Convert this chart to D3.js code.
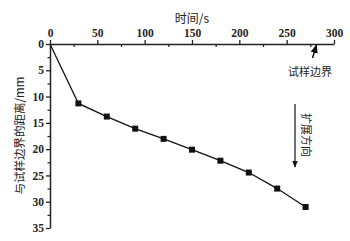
<!DOCTYPE html>
<html>
<head>
<meta charset="utf-8">
<script src="https://cdn.jsdelivr.net/npm/d3@7"></script>
<style>
  body { margin: 0; background: #fff; }
  svg { display: block; }
</style>
</head>
<body>
<script>
// data: time (s) vs distance from sample edge (mm)
var times = [0, 30, 60, 90, 120, 150, 180, 210, 240, 270];
var distances = [0, 11.3, 13.8, 16.1, 18.05, 20.1, 22.2, 24.45, 27.5, 31.0];
var xTicks = [0, 50, 100, 150, 200, 250, 300];
var yTicks = [0, 5, 10, 15, 20, 25, 30, 35];

var width = 350, height = 241;
// plot edges (don't call these top/left: window.top is taken)
var plotLeft = 50, plotRight = 334, plotTop = 44, plotBottom = 228;
var cjkFont = '"Noto Sans CJK SC", sans-serif';

var svg = d3.select('body').append('svg')
  .attr('width', width)
  .attr('height', height);

var defs = svg.append('defs');
defs.append('marker')
  .attr('id', 'head')
  .attr('viewBox', '0 0 10 10')
  .attr('refX', 9).attr('refY', 5)
  .attr('markerWidth', 6).attr('markerHeight', 6)
  .attr('orient', 'auto')
  .append('path')
  .attr('d', 'M0,1 L10,5 L0,9 Z')
  .attr('fill', '#111');

var x = d3.scaleLinear().domain([0, 300]).range([plotLeft, plotRight]);
var y = d3.scaleLinear().domain([0, 35]).range([plotTop, plotBottom]);

// minor ticks first
svg.append('g')
  .attr('transform', 'translate(0,' + plotTop + ')')
  .call(d3.axisBottom(x).tickValues(d3.range(25, 300, 50)).tickSize(3).tickFormat(''))
  .call(function (g) { g.select('.domain').remove(); g.selectAll('line').attr('stroke', '#222').attr('stroke-width', 1.2); });

svg.append('g')
  .attr('transform', 'translate(' + plotLeft + ',0)')
  .call(d3.axisLeft(y).tickValues(d3.range(2.5, 35, 5)).tickSize(2.5).tickFormat(''))
  .call(function (g) { g.select('.domain').remove(); g.selectAll('line').attr('stroke', '#222').attr('stroke-width', 1.2); });

// main axes
var xAxis = svg.append('g')
  .attr('transform', 'translate(0,' + plotTop + ')')
  .call(d3.axisTop(x).tickValues(xTicks).tickSize(4).tickSizeOuter(0).tickPadding(3));

var yAxis = svg.append('g')
  .attr('transform', 'translate(' + plotLeft + ',0)')
  .call(d3.axisLeft(y).tickValues(yTicks).tickSize(4).tickSizeOuter(0).tickPadding(2));

[xAxis, yAxis].forEach(function (g) {
  g.attr('font-family', '"Liberation Serif", serif').attr('font-size', 11.5).attr('font-weight', 'bold');
  g.select('.domain').attr('stroke', '#222').attr('stroke-width', 1.5);
  g.selectAll('.tick line').attr('stroke', '#222').attr('stroke-width', 1.3);
  g.selectAll('.tick text').attr('fill', '#222');
});

// axis titles
svg.append('text')
  .attr('x', 192)
  .attr('y', 23)
  .attr('text-anchor', 'middle')
  .attr('font-family', cjkFont)
  .attr('font-size', 12)
  .attr('fill', '#222')
  .text('时间/s');

svg.append('text')
  .attr('transform', 'translate(24,135.5) rotate(-90)')
  .attr('text-anchor', 'middle')
  .attr('font-family', cjkFont)
  .attr('font-size', 11.5)
  .attr('fill', '#222')
  .text('与试样边界的距离/mm');

// the line and markers
var pts = times.map(function (t, i) { return [t, distances[i]]; });

svg.append('path')
  .datum(pts)
  .attr('fill', 'none')
  .attr('stroke', '#111')
  .attr('stroke-width', 1.3)
  .attr('d', d3.line().x(function (d) { return x(d[0]); }).y(function (d) { return y(d[1]); }));

svg.selectAll('rect.pt')
  .data(pts.slice(1))
  .enter()
  .append('rect')
  .attr('class', 'pt')
  .attr('x', function (d) { return x(d[0]) - 3; })
  .attr('y', function (d) { return y(d[1]) - 3; })
  .attr('width', 6)
  .attr('height', 6)
  .attr('fill', '#111');

// annotation: sample edge
svg.append('line')
  .attr('x1', 312.5).attr('y1', 58)
  .attr('x2', 316.5).attr('y2', 45)
  .attr('stroke', '#111').attr('stroke-width', 1.5)
  .attr('marker-end', 'url(#head)');

svg.append('text')
  .attr('x', 310)
  .attr('y', 76)
  .attr('text-anchor', 'middle')
  .attr('font-family', cjkFont)
  .attr('font-size', 11)
  .attr('fill', '#222')
  .text('试样边界');

// annotation: growth direction
svg.append('line')
  .attr('x1', 295).attr('y1', 104)
  .attr('x2', 295).attr('y2', 167)
  .attr('stroke', '#111').attr('stroke-width', 1.2)
  .attr('marker-end', 'url(#head)');

svg.append('text')
  .attr('transform', 'translate(302,135) rotate(90)')
  .attr('text-anchor', 'middle')
  .attr('font-family', cjkFont)
  .attr('font-size', 11)
  .attr('fill', '#222')
  .text('扩展方向');
</script>
</body>
</html>
